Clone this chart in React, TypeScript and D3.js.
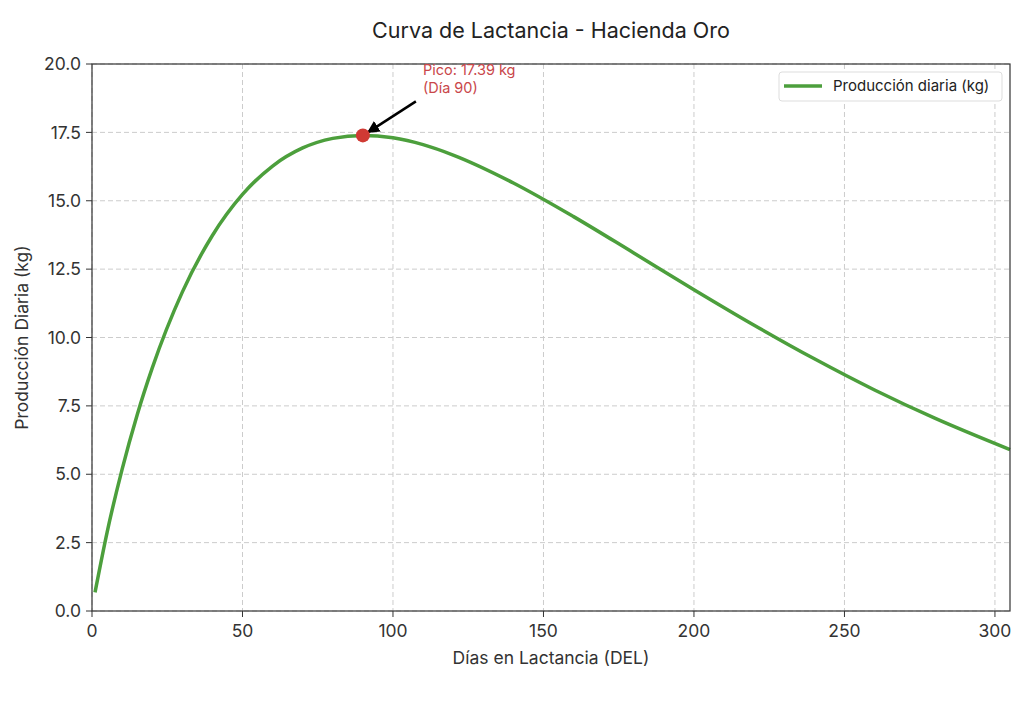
import { useEffect, useRef } from "react"
import * as d3 from "d3"

// Days in lactation and daily production (kg)
const days = [1, 5, 10, 15, 20, 30, 40, 50, 60, 70, 80, 90, 100, 110, 120, 140, 160, 180, 200, 220, 240, 260, 280, 305]
const production = [0.68, 2.87, 5.18, 7.17, 8.88, 11.66, 13.73, 15.23, 16.27, 16.93, 17.28, 17.39, 17.3, 17.05, 16.67, 15.65, 14.42, 13.09, 11.75, 10.45, 9.22, 8.08, 7.05, 5.9]
const xTicks = [0, 50, 100, 150, 200, 250, 300]
const yTicks = [0, 2.5, 5, 7.5, 10, 12.5, 15, 17.5, 20]
const peakDay = 90
const peakValue = 17.39

const WIDTH = 1024
const HEIGHT = 703
const FONT = "Inter, 'Open Sans', sans-serif"

export default function App() {
  const svgRef = useRef<SVGSVGElement>(null)

  useEffect(() => {
    if (!svgRef.current) return
    const svg = d3.select(svgRef.current)
    svg.selectAll("*").remove()

    const left = 92, right = 1010, top = 64, bottom = 611
    const x = d3.scaleLinear().domain([0, 305]).range([left, right])
    const y = d3.scaleLinear().domain([0, 20]).range([bottom, top])

    svg.append("rect").attr("width", WIDTH).attr("height", HEIGHT).attr("fill", "#fff")

    // grid
    const grid = svg.append("g").attr("stroke", "#cccccc").attr("stroke-width", 1).attr("stroke-dasharray", "5,3")
    xTicks.forEach(t => {
      grid.append("line").attr("x1", x(t)).attr("x2", x(t)).attr("y1", top).attr("y2", bottom)
    })
    yTicks.forEach(t => {
      grid.append("line").attr("x1", left).attr("x2", right).attr("y1", y(t)).attr("y2", y(t))
    })

    // curve
    const data = days.map((d, i) => [d, production[i]] as [number, number])
    const line = d3.line<[number, number]>()
      .x(d => x(d[0]))
      .y(d => y(d[1]))
      .curve(d3.curveMonotoneX)

    svg.append("path")
      .datum(data)
      .attr("d", line)
      .attr("fill", "none")
      .attr("stroke", "#4c9f3c")
      .attr("stroke-width", 3.5)

    // frame
    svg.append("rect")
      .attr("x", left).attr("y", top)
      .attr("width", right - left).attr("height", bottom - top)
      .attr("fill", "none").attr("stroke", "#333").attr("stroke-width", 1.2)

    // ticks
    const axisG = svg.append("g").attr("font-family", FONT).attr("fill", "#333").attr("font-size", 17.5)
    xTicks.forEach(t => {
      axisG.append("line").attr("x1", x(t)).attr("x2", x(t)).attr("y1", bottom).attr("y2", bottom + 6).attr("stroke", "#333")
      axisG.append("text").attr("x", x(t)).attr("y", bottom + 26).attr("text-anchor", "middle").text(String(t))
    })
    yTicks.forEach(t => {
      axisG.append("line").attr("x1", left - 6).attr("x2", left).attr("y1", y(t)).attr("y2", y(t)).attr("stroke", "#333")
      axisG.append("text").attr("x", left - 11).attr("y", y(t)).attr("dy", "0.35em").attr("text-anchor", "end").text(t.toFixed(1))
    })

    // labels
    svg.append("text")
      .attr("x", (left + right) / 2).attr("y", 38)
      .attr("text-anchor", "middle").attr("font-family", FONT).attr("font-size", 21.5).attr("fill", "#222")
      .text("Curva de Lactancia - Hacienda Oro")

    svg.append("text")
      .attr("x", (left + right) / 2).attr("y", 664)
      .attr("text-anchor", "middle").attr("font-family", FONT).attr("font-size", 17.5).attr("fill", "#333")
      .text("Días en Lactancia (DEL)")

    svg.append("text")
      .attr("transform", `translate(28,${(top + bottom) / 2}) rotate(-90)`)
      .attr("text-anchor", "middle").attr("font-family", FONT).attr("font-size", 17.5).attr("fill", "#333")
      .text("Producción Diaria (kg)")

    // peak annotation
    const px = x(peakDay), py = y(peakValue)
    svg.append("defs").append("marker")
      .attr("id", "arrow").attr("viewBox", "0 0 10 10").attr("refX", 9).attr("refY", 5)
      .attr("markerWidth", 5).attr("markerHeight", 5).attr("orient", "auto")
      .append("path").attr("d", "M0,0 L10,5 L0,10 z").attr("fill", "#000")

    svg.append("line")
      .attr("x1", px + 53).attr("y1", py - 34)
      .attr("x2", px + 5).attr("y2", py - 3)
      .attr("stroke", "#000").attr("stroke-width", 2.5)
      .attr("marker-end", "url(#arrow)")

    svg.append("circle").attr("cx", px).attr("cy", py).attr("r", 7).attr("fill", "#d03a34")

    const ann = svg.append("text").attr("font-family", FONT).attr("font-size", 14.5).attr("fill", "#c9474a")
    ann.append("tspan").attr("x", px + 60).attr("y", py - 60).text(`Pico: ${peakValue} kg`)
    ann.append("tspan").attr("x", px + 60).attr("y", py - 42).text(`(Día ${peakDay})`)

    // legend
    const lg = svg.append("g")
    lg.append("rect").attr("x", 779).attr("y", 72).attr("width", 223).attr("height", 29).attr("rx", 3)
      .attr("fill", "#fff").attr("stroke", "#ddd")
    lg.append("line").attr("x1", 784).attr("x2", 822).attr("y1", 86).attr("y2", 86)
      .attr("stroke", "#4c9f3c").attr("stroke-width", 3.5)
    lg.append("text").attr("x", 833).attr("y", 86).attr("dy", "0.35em")
      .attr("font-family", FONT).attr("font-size", 15).attr("fill", "#222")
      .text("Producción diaria (kg)")
  }, [])

  return <svg ref={svgRef} width={WIDTH} height={HEIGHT} style={{ display: "block", margin: -8 }} />
}
